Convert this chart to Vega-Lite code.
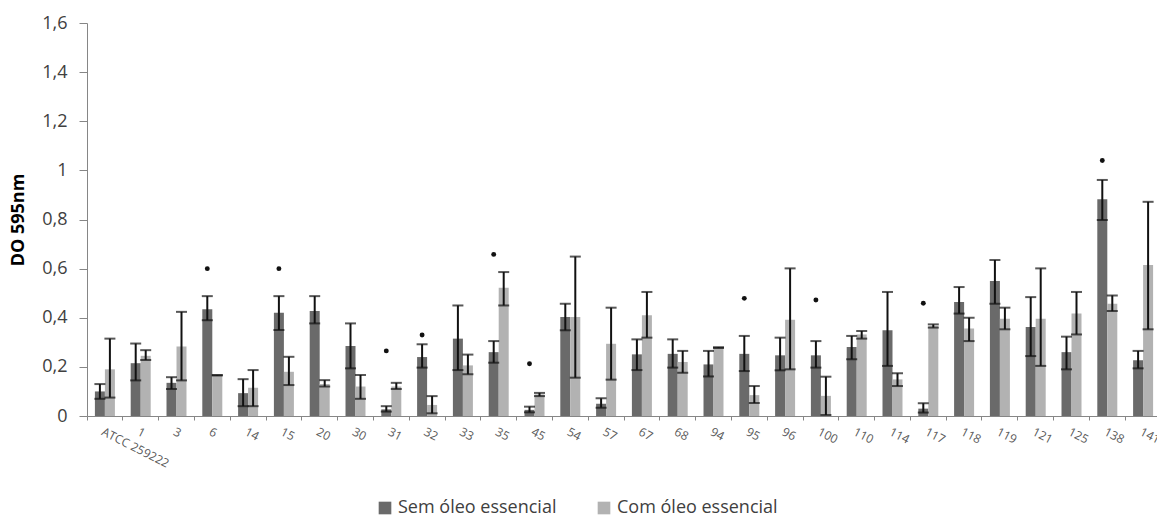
{
  "$schema": "https://vega.github.io/schema/vega-lite/v6.json",
  "autosize": {"type": "none"},
  "padding": {"left": 87, "top": 23, "right": 0, "bottom": 103},
  "width": 1074,
  "height": 393,
  "background": "white",
  "config": {"view": {"stroke": null}, "font": "Open Sans"},
  "datasets": {
    "bars": [
      {"cat": "ATCC 259222", "group": "Sem óleo essencial", "value": 0.10, "lo": 0.07, "hi": 0.13},
      {"cat": "ATCC 259222", "group": "Com óleo essencial", "value": 0.19, "lo": 0.075, "hi": 0.315},
      {"cat": "1", "group": "Sem óleo essencial", "value": 0.215, "lo": 0.145, "hi": 0.295},
      {"cat": "1", "group": "Com óleo essencial", "value": 0.245, "lo": 0.228, "hi": 0.268},
      {"cat": "3", "group": "Sem óleo essencial", "value": 0.135, "lo": 0.11, "hi": 0.158},
      {"cat": "3", "group": "Com óleo essencial", "value": 0.283, "lo": 0.145, "hi": 0.424},
      {"cat": "6", "group": "Sem óleo essencial", "value": 0.435, "lo": 0.39, "hi": 0.488},
      {"cat": "6", "group": "Com óleo essencial", "value": 0.166, "lo": 0.165, "hi": 0.167},
      {"cat": "14", "group": "Sem óleo essencial", "value": 0.093, "lo": 0.04, "hi": 0.15},
      {"cat": "14", "group": "Com óleo essencial", "value": 0.115, "lo": 0.04, "hi": 0.187},
      {"cat": "15", "group": "Sem óleo essencial", "value": 0.42, "lo": 0.35, "hi": 0.488},
      {"cat": "15", "group": "Com óleo essencial", "value": 0.18, "lo": 0.126, "hi": 0.241},
      {"cat": "20", "group": "Sem óleo essencial", "value": 0.427, "lo": 0.377, "hi": 0.488},
      {"cat": "20", "group": "Com óleo essencial", "value": 0.13, "lo": 0.12, "hi": 0.146},
      {"cat": "30", "group": "Sem óleo essencial", "value": 0.285, "lo": 0.194, "hi": 0.377},
      {"cat": "30", "group": "Com óleo essencial", "value": 0.12, "lo": 0.07, "hi": 0.167},
      {"cat": "31", "group": "Sem óleo essencial", "value": 0.027, "lo": 0.018, "hi": 0.04},
      {"cat": "31", "group": "Com óleo essencial", "value": 0.12, "lo": 0.11, "hi": 0.135},
      {"cat": "32", "group": "Sem óleo essencial", "value": 0.24, "lo": 0.197, "hi": 0.292},
      {"cat": "32", "group": "Com óleo essencial", "value": 0.045, "lo": 0.011, "hi": 0.081},
      {"cat": "33", "group": "Sem óleo essencial", "value": 0.315, "lo": 0.187, "hi": 0.45},
      {"cat": "33", "group": "Com óleo essencial", "value": 0.206, "lo": 0.17, "hi": 0.25},
      {"cat": "35", "group": "Sem óleo essencial", "value": 0.26, "lo": 0.217, "hi": 0.305},
      {"cat": "35", "group": "Com óleo essencial", "value": 0.522, "lo": 0.45, "hi": 0.586},
      {"cat": "45", "group": "Sem óleo essencial", "value": 0.025, "lo": 0.015, "hi": 0.038},
      {"cat": "45", "group": "Com óleo essencial", "value": 0.088, "lo": 0.081, "hi": 0.094},
      {"cat": "54", "group": "Sem óleo essencial", "value": 0.403, "lo": 0.349, "hi": 0.457},
      {"cat": "54", "group": "Com óleo essencial", "value": 0.403, "lo": 0.156, "hi": 0.649},
      {"cat": "57", "group": "Sem óleo essencial", "value": 0.05, "lo": 0.034, "hi": 0.072},
      {"cat": "57", "group": "Com óleo essencial", "value": 0.294, "lo": 0.148, "hi": 0.441},
      {"cat": "67", "group": "Sem óleo essencial", "value": 0.251, "lo": 0.187, "hi": 0.312},
      {"cat": "67", "group": "Com óleo essencial", "value": 0.41, "lo": 0.319, "hi": 0.505},
      {"cat": "68", "group": "Sem óleo essencial", "value": 0.253, "lo": 0.197, "hi": 0.312},
      {"cat": "68", "group": "Com óleo essencial", "value": 0.22, "lo": 0.176, "hi": 0.265},
      {"cat": "94", "group": "Sem óleo essencial", "value": 0.21, "lo": 0.161, "hi": 0.265},
      {"cat": "94", "group": "Com óleo essencial", "value": 0.278, "lo": 0.277, "hi": 0.28},
      {"cat": "95", "group": "Sem óleo essencial", "value": 0.253, "lo": 0.183, "hi": 0.326},
      {"cat": "95", "group": "Com óleo essencial", "value": 0.085, "lo": 0.053, "hi": 0.122},
      {"cat": "96", "group": "Sem óleo essencial", "value": 0.247, "lo": 0.186, "hi": 0.319},
      {"cat": "96", "group": "Com óleo essencial", "value": 0.392, "lo": 0.19, "hi": 0.601},
      {"cat": "100", "group": "Sem óleo essencial", "value": 0.247, "lo": 0.197, "hi": 0.305},
      {"cat": "100", "group": "Com óleo essencial", "value": 0.082, "lo": 0.004, "hi": 0.16},
      {"cat": "110", "group": "Sem óleo essencial", "value": 0.281, "lo": 0.231, "hi": 0.326},
      {"cat": "110", "group": "Com óleo essencial", "value": 0.332, "lo": 0.315, "hi": 0.346},
      {"cat": "114", "group": "Sem óleo essencial", "value": 0.349, "lo": 0.204, "hi": 0.505},
      {"cat": "114", "group": "Com óleo essencial", "value": 0.149, "lo": 0.122, "hi": 0.174},
      {"cat": "117", "group": "Sem óleo essencial", "value": 0.03, "lo": 0.014, "hi": 0.052},
      {"cat": "117", "group": "Com óleo essencial", "value": 0.365, "lo": 0.36, "hi": 0.373},
      {"cat": "118", "group": "Sem óleo essencial", "value": 0.464, "lo": 0.417, "hi": 0.525},
      {"cat": "118", "group": "Com óleo essencial", "value": 0.356, "lo": 0.305, "hi": 0.4},
      {"cat": "119", "group": "Sem óleo essencial", "value": 0.55, "lo": 0.457, "hi": 0.635},
      {"cat": "119", "group": "Com óleo essencial", "value": 0.396, "lo": 0.353, "hi": 0.441},
      {"cat": "121", "group": "Sem óleo essencial", "value": 0.362, "lo": 0.244, "hi": 0.484},
      {"cat": "121", "group": "Com óleo essencial", "value": 0.396, "lo": 0.204, "hi": 0.601},
      {"cat": "125", "group": "Sem óleo essencial", "value": 0.26, "lo": 0.19, "hi": 0.323},
      {"cat": "125", "group": "Com óleo essencial", "value": 0.417, "lo": 0.332, "hi": 0.505},
      {"cat": "138", "group": "Sem óleo essencial", "value": 0.882, "lo": 0.798, "hi": 0.961},
      {"cat": "138", "group": "Com óleo essencial", "value": 0.457, "lo": 0.427, "hi": 0.491},
      {"cat": "141", "group": "Sem óleo essencial", "value": 0.227, "lo": 0.194, "hi": 0.265},
      {"cat": "141", "group": "Com óleo essencial", "value": 0.615, "lo": 0.353, "hi": 0.872}
    ],
    "stars": [
      {"cat": "6", "group": "Sem óleo essencial", "y": 0.6},
      {"cat": "15", "group": "Sem óleo essencial", "y": 0.6},
      {"cat": "31", "group": "Sem óleo essencial", "y": 0.265},
      {"cat": "32", "group": "Sem óleo essencial", "y": 0.33},
      {"cat": "35", "group": "Sem óleo essencial", "y": 0.658},
      {"cat": "45", "group": "Sem óleo essencial", "y": 0.213},
      {"cat": "95", "group": "Sem óleo essencial", "y": 0.479},
      {"cat": "100", "group": "Sem óleo essencial", "y": 0.472},
      {"cat": "117", "group": "Sem óleo essencial", "y": 0.459},
      {"cat": "138", "group": "Sem óleo essencial", "y": 1.04}
    ]
  },
  "encoding": {
    "x": {
      "field": "cat", "type": "nominal", "sort": null,
      "scale": {"paddingInner": 0, "paddingOuter": 0},
      "axis": {
        "title": null, "labelAngle": 27, "labelFontSize": 12, "labelColor": "#595959",
        "labelPadding": 6, "tickSize": 4, "tickColor": "#868686", "domainColor": "#868686",
        "bandPosition": 0, "labelBound": false, "labelOverlap": false
      }
    },
    "xOffset": {
      "field": "group", "type": "nominal",
      "sort": ["Sem óleo essencial", "Com óleo essencial"],
      "scale": {"domain": ["Sem óleo essencial", "Com óleo essencial"], "paddingInner": 0, "paddingOuter": 0.79}
    }
  },
  "layer": [
    {
      "data": {"name": "bars"},
      "mark": {"type": "bar"},
      "encoding": {
        "y": {
          "field": "value", "type": "quantitative",
          "scale": {"domain": [0, 1.6]},
          "axis": {
            "title": "DO 595nm", "titleFontSize": 18, "titleFontWeight": "bold", "titleColor": "#000000",
            "titlePadding": 14, "values": [0, 0.2, 0.4, 0.6, 0.8, 1, 1.2, 1.4, 1.6],
            "labelExpr": "replace(format(datum.value, '~g'), '.', ',')",
            "labelFontSize": 18, "labelColor": "#404040", "labelPadding": 12,
            "tickSize": 8, "tickColor": "#868686", "domainColor": "#868686", "grid": false
          }
        },
        "color": {
          "field": "group", "type": "nominal",
          "scale": {"domain": ["Sem óleo essencial", "Com óleo essencial"], "range": ["#6a6a6a", "#b2b2b2"]},
          "legend": {
            "title": null, "orient": "none", "direction": "horizontal",
            "legendX": 289, "legendY": 476, "symbolType": "square", "symbolSize": 160,
            "symbolStrokeWidth": 0, "labelFontSize": 18, "labelColor": "#404040",
            "columnPadding": 38, "labelOffset": 4, "labelLimit": 400
          }
        }
      }
    },
    {
      "data": {"name": "bars"},
      "mark": {"type": "rule", "color": "#111111", "strokeWidth": 2},
      "encoding": {
        "y": {"field": "lo", "type": "quantitative"},
        "y2": {"field": "hi"}
      }
    },
    {
      "data": {"name": "bars"},
      "mark": {"type": "tick", "color": "#111111", "thickness": 2, "size": 11},
      "encoding": {
        "y": {"field": "lo", "type": "quantitative"}
      }
    },
    {
      "data": {"name": "bars"},
      "mark": {"type": "tick", "color": "#111111", "thickness": 2, "size": 11},
      "encoding": {
        "y": {"field": "hi", "type": "quantitative"}
      }
    },
    {
      "data": {"name": "stars"},
      "mark": {"type": "point", "filled": true, "color": "#111111", "size": 24, "opacity": 1, "shape": "circle"},
      "encoding": {
        "y": {"field": "y", "type": "quantitative"}
      }
    }
  ]
}
